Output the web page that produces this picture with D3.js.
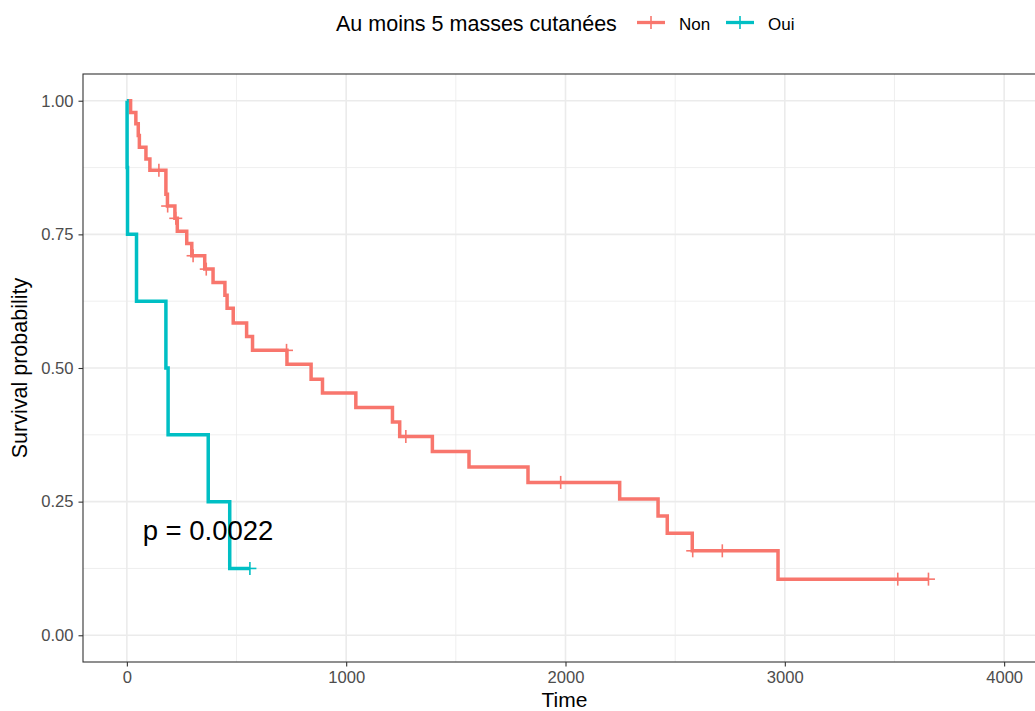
<!DOCTYPE html>
<html>
<head>
<meta charset="utf-8">
<script src="https://cdn.jsdelivr.net/npm/d3@7"></script>
<style>
  body { margin: 0; background: #fff; }
  text { font-family: "Liberation Sans", Arial, sans-serif; }
</style>
</head>
<body>
<svg id="km-svg"></svg>
<script>
// survival curves
var groupNames = ["Non", "Oui"];
var groupColors = ["#F8766D", "#00BFC4"];

// group "Non"
var nonTimes = [0, 17, 41, 52, 57, 87, 105, 178, 185, 219, 230, 273, 296, 355, 393, 447, 457, 485, 546, 573,
  730, 840, 892, 1044, 1211, 1244, 1393, 1560, 1829, 2247, 2422, 2464, 2578, 2969, 3655];
var nonSurv = [1, 0.978, 0.957, 0.935, 0.913, 0.891, 0.870, 0.825, 0.803, 0.780, 0.756, 0.733, 0.710, 0.685, 0.660, 0.636, 0.612, 0.584, 0.559, 0.533,
  0.507, 0.479, 0.453, 0.426, 0.399, 0.372, 0.344, 0.315, 0.286, 0.255, 0.223, 0.191, 0.158, 0.105, 0.105];
var nonCensor = [146, 186, 223, 302, 362, 728, 1272, 1978, 2580, 2715, 3515, 3655];

// group "Oui"
var ouiTimes = [0, 1, 3, 44, 178, 188, 371, 469, 561];
var ouiSurv = [1, 0.875, 0.75, 0.625, 0.5, 0.375, 0.25, 0.125, 0.125];
var ouiCensor = [561];

var xTicks = [0, 1000, 2000, 3000, 4000];
var xMinor = [500, 1500, 2500, 3500];
var yTicks = [0, 0.25, 0.5, 0.75, 1];
var yMinor = [0.125, 0.375, 0.625, 0.875];

var legendTitle = "Au moins 5 masses cutanées";
var pText = "p = 0.0022";

((() => {

  var width = 1035;
  var height = 711;
  var panel = {left: 83, top: 74, right: 1048, bottom: 662};

  var svg = d3.select("#km-svg")
    .attr("width", width)
    .attr("height", height);

  var x = d3.scaleLinear().domain([-200, 4200]).range([panel.left, panel.right]);
  var y = d3.scaleLinear().domain([-0.05, 1.05]).range([panel.bottom, panel.top]);

  // grid lines
  var grid = svg.append("g");
  grid.selectAll(".xminor").data(xMinor).enter().append("line")
    .attr("x1", d => x(d)).attr("x2", d => x(d))
    .attr("y1", panel.top).attr("y2", panel.bottom)
    .attr("stroke", "#EBEBEB").attr("stroke-width", 0.8);
  grid.selectAll(".yminor").data(yMinor).enter().append("line")
    .attr("x1", panel.left).attr("x2", panel.right)
    .attr("y1", d => y(d)).attr("y2", d => y(d))
    .attr("stroke", "#EBEBEB").attr("stroke-width", 0.8);
  grid.selectAll(".xmajor").data(xTicks).enter().append("line")
    .attr("x1", d => x(d)).attr("x2", d => x(d))
    .attr("y1", panel.top).attr("y2", panel.bottom)
    .attr("stroke", "#EBEBEB").attr("stroke-width", 1.6);
  grid.selectAll(".ymajor").data(yTicks).enter().append("line")
    .attr("x1", panel.left).attr("x2", panel.right)
    .attr("y1", d => y(d)).attr("y2", d => y(d))
    .attr("stroke", "#EBEBEB").attr("stroke-width", 1.6);

  // step value of a curve at time t
  function survAt(times, surv, t) {
    var s = surv[0];
    for (var i = 0; i < times.length; i++) {
      if (times[i] <= t) s = surv[i];
    }
    return s;
  }

  var line = d3.line()
    .x(d => x(d[0]))
    .y(d => y(d[1]))
    .curve(d3.curveStepAfter);

  var groups = [
    {times: nonTimes, surv: nonSurv, censor: nonCensor, color: groupColors[0]},
    {times: ouiTimes, surv: ouiSurv, censor: ouiCensor, color: groupColors[1]}
  ];

  var curves = svg.append("g");
  groups.forEach(function (g) {
    var pts = g.times.map((t, i) => [t, g.surv[i]]);
    curves.append("path")
      .attr("d", line(pts))
      .attr("fill", "none")
      .attr("stroke", g.color)
      .attr("stroke-width", 3.5);

    // censor marks as "+"
    var marks = curves.append("g").selectAll("g")
      .data(g.censor)
      .enter()
      .append("g")
      .attr("transform", d => "translate(" + x(d) + "," + y(survAt(g.times, g.surv, d)) + ")");
    marks.append("line").attr("x1", -6.5).attr("x2", 6.5)
      .attr("stroke", g.color).attr("stroke-width", 1.6);
    marks.append("line").attr("y1", -6.5).attr("y2", 6.5)
      .attr("stroke", g.color).attr("stroke-width", 1.6);
  });

  // p value
  svg.append("text")
    .attr("x", x(72))
    .attr("y", 540)
    .attr("font-size", 27.5)
    .attr("fill", "#000")
    .text(pText);

  // panel border
  svg.append("rect")
    .attr("x", panel.left).attr("y", panel.top)
    .attr("width", panel.right - panel.left).attr("height", panel.bottom - panel.top)
    .attr("fill", "none").attr("stroke", "#333333").attr("stroke-width", 1.1);

  // axes
  var xAxis = svg.append("g")
    .attr("transform", "translate(0," + panel.bottom + ")")
    .call(d3.axisBottom(x).tickValues(xTicks).tickSize(4.5).tickPadding(5).tickFormat(d3.format("d")));
  var yAxis = svg.append("g")
    .attr("transform", "translate(" + panel.left + ",0)")
    .call(d3.axisLeft(y).tickValues(yTicks).tickSize(4.5).tickPadding(5).tickFormat(d3.format(".2f")));

  [xAxis, yAxis].forEach(function (a) {
    a.select(".domain").remove();
    a.selectAll(".tick line").attr("stroke", "#333333").attr("stroke-width", 1.1);
    a.selectAll(".tick text")
      .attr("font-size", 16.6)
      .attr("font-family", "Liberation Sans, Arial, sans-serif")
      .attr("fill", "#4D4D4D");
  });

  // axis titles
  svg.append("text")
    .attr("x", (panel.left + panel.right) / 2 - 1)
    .attr("y", 707)
    .attr("text-anchor", "middle")
    .attr("font-size", 21)
    .text("Time");

  svg.append("text")
    .attr("transform", "translate(27," + y(0.5) + ") rotate(-90)")
    .attr("text-anchor", "middle")
    .attr("font-size", 21.5)
    .text("Survival probability");

  // legend on top
  var legend = svg.append("g");
  legend.append("text")
    .attr("x", 336)
    .attr("y", 31)
    .attr("font-size", 21.5)
    .text(legendTitle);

  var keyX = [637, 726];
  groupNames.forEach(function (name, i) {
    var k = legend.append("g").attr("transform", "translate(" + keyX[i] + ",22.5)");
    k.append("line").attr("x1", 0).attr("x2", 28)
      .attr("stroke", groupColors[i]).attr("stroke-width", 3.3);
    k.append("line").attr("x1", 14).attr("x2", 14).attr("y1", -6.5).attr("y2", 6.5)
      .attr("stroke", groupColors[i]).attr("stroke-width", 1.6);
    k.append("text")
      .attr("x", 42)
      .attr("y", 7)
      .attr("font-size", 17)
      .text(name);
  });

})());
</script>
</body>
</html>
